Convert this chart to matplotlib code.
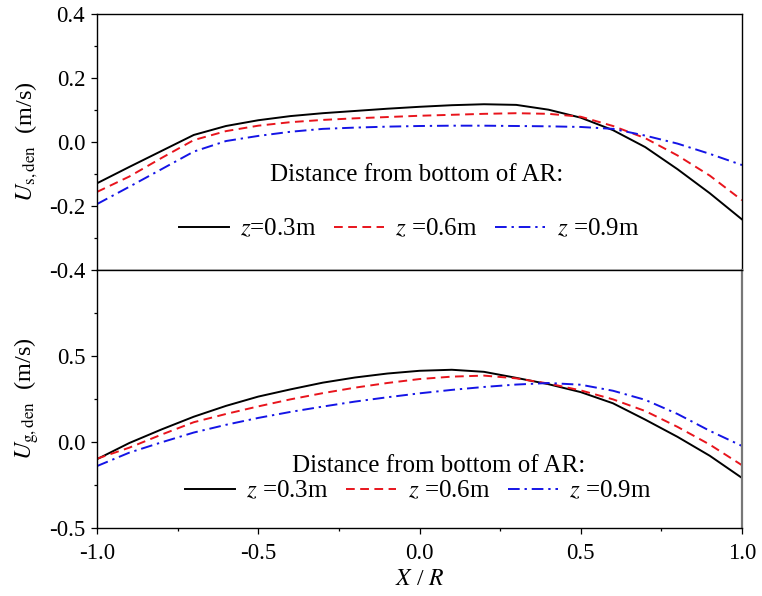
import matplotlib
matplotlib.use("Agg")
import matplotlib.pyplot as plt
from matplotlib.ticker import MultipleLocator, FixedLocator

plt.rcParams['font.family'] = ['Liberation Serif', 'DejaVu Serif']
plt.rcParams['mathtext.fontset'] = 'stix'

x = [-1.0, -0.9, -0.8, -0.7, -0.6, -0.5, -0.4, -0.3, -0.2, -0.1, 0.0,
     0.1, 0.2, 0.3, 0.4, 0.5, 0.6, 0.7, 0.8, 0.9, 1.0]

us_z03 = [-0.129, -0.078, -0.028, 0.022, 0.050, 0.068, 0.081, 0.090, 0.097, 0.104, 0.110,
          0.115, 0.118, 0.116, 0.101, 0.076, 0.037, -0.016, -0.085, -0.160, -0.242]
us_z06 = [-0.156, -0.108, -0.050, 0.006, 0.034, 0.051, 0.062, 0.069, 0.074, 0.078, 0.082,
          0.085, 0.088, 0.090, 0.088, 0.079, 0.050, 0.012, -0.042, -0.105, -0.182]
us_z09 = [-0.194, -0.140, -0.085, -0.030, 0.003, 0.019, 0.032, 0.041, 0.045, 0.048, 0.050,
          0.051, 0.051, 0.050, 0.049, 0.047, 0.041, 0.020, -0.005, -0.037, -0.072]

ug_z03 = [-0.100, -0.006, 0.073, 0.147, 0.210, 0.264, 0.306, 0.345, 0.375, 0.398, 0.414,
          0.420, 0.408, 0.373, 0.336, 0.290, 0.225, 0.130, 0.030, -0.080, -0.209]
ug_z06 = [-0.097, -0.033, 0.043, 0.115, 0.163, 0.207, 0.248, 0.284, 0.316, 0.343, 0.366,
          0.380, 0.386, 0.370, 0.340, 0.300, 0.248, 0.180, 0.088, -0.015, -0.135]
ug_z09 = [-0.140, -0.062, -0.002, 0.055, 0.100, 0.140, 0.175, 0.206, 0.235, 0.260, 0.283,
          0.303, 0.320, 0.334, 0.343, 0.333, 0.298, 0.245, 0.163, 0.065, -0.023]

labels_top = ["$z$=0.3m", "$z$ =0.6m", "$z$ =0.9m"]
labels_bot = ["$z$ =0.3m", "$z$ =0.6m", "$z$ =0.9m"]
legend_title = "Distance from bottom of AR:"

colors = ["black", "#e8141c", "#1414e6"]
styles = ["-", (0, (4.5, 2.8)), (0, (6, 2.5, 1.2, 2.5))]

fig = plt.figure(figsize=(7.62, 5.96), dpi=100)
L, R = 97 / 762, 742 / 762
ax1 = fig.add_axes([L, 1 - 270 / 596, R - L, (270 - 14) / 596])
ax2 = fig.add_axes([L, 1 - 528 / 596, R - L, (528 - 270) / 596])

for ax, ys, labs in [(ax1, [us_z03, us_z06, us_z09], labels_top),
                     (ax2, [ug_z03, ug_z06, ug_z09], labels_bot)]:
    for y, c, ls, lab in zip(ys, colors, styles, labs):
        ax.plot(x, y, color=c, linestyle=ls, linewidth=1.4, label=lab)
    ax.set_xlim(-1.0, 1.0)
    ax.xaxis.set_major_locator(MultipleLocator(0.5))
    ax.xaxis.set_minor_locator(MultipleLocator(0.25))
    ax.tick_params(which='major', direction='out', length=4.5, width=0.9, labelsize=16.5, pad=4)
    ax.tick_params(which='minor', direction='out', length=2.5, width=0.9)
    ax.tick_params(top=False, right=False)
    for s in ax.spines.values():
        s.set_linewidth(1.0)

ax1.set_ylim(-0.4, 0.4)
ax1.yaxis.set_minor_locator(MultipleLocator(0.1))
ax1.set_yticks([-0.4, -0.2, 0.0, 0.2, 0.4])
ax1.set_yticklabels(["-0.4", "-0.2", "0.0", "0.2", "0.4"])
ax1.tick_params(axis='x', which='both', bottom=False, labelbottom=False)

ax2.set_ylim(-0.5, 1.0)
ax2.set_yticks([-0.5, 0.0, 0.5])
ax2.set_yticklabels(["-0.5", "0.0", "0.5"])
ax2.yaxis.set_minor_locator(FixedLocator([-0.25, 0.25, 0.75]))
ax2.set_xticks([-1.0, -0.5, 0.0, 0.5, 1.0])
ax2.set_xticklabels(["-1.0", "-0.5", "0.0", "0.5", "1.0"])
ax2.tick_params(axis='x', pad=6)
ax2.spines['right'].set_color('#777777')
ax2.spines['right'].set_linewidth(1.6)

ax1.set_ylabel(r"$U_{\mathrm{s,den}}$  (m/s)", fontsize=17.5, labelpad=6)
ax2.set_ylabel(r"$U_{\mathrm{g,den}}$  (m/s)", fontsize=17.5, labelpad=6)
ax2.set_xlabel(r"$X$ / $R$", fontsize=17, labelpad=4)

ax1.text(0.495, 0.372, legend_title, transform=ax1.transAxes, ha='center', va='center', fontsize=18)
ax2.text(0.53, 0.240, legend_title, transform=ax2.transAxes, ha='center', va='center', fontsize=18)

leg_kw = dict(ncol=3, frameon=False, fontsize=18, handlelength=2.0, handletextpad=0.45,
              columnspacing=0.7, borderaxespad=0, loc='center')
ax1.legend(bbox_to_anchor=(0.484, 0.160), **leg_kw)
ax2.legend(bbox_to_anchor=(0.498, 0.143), **leg_kw)

fig.savefig("out.png", dpi=100)
